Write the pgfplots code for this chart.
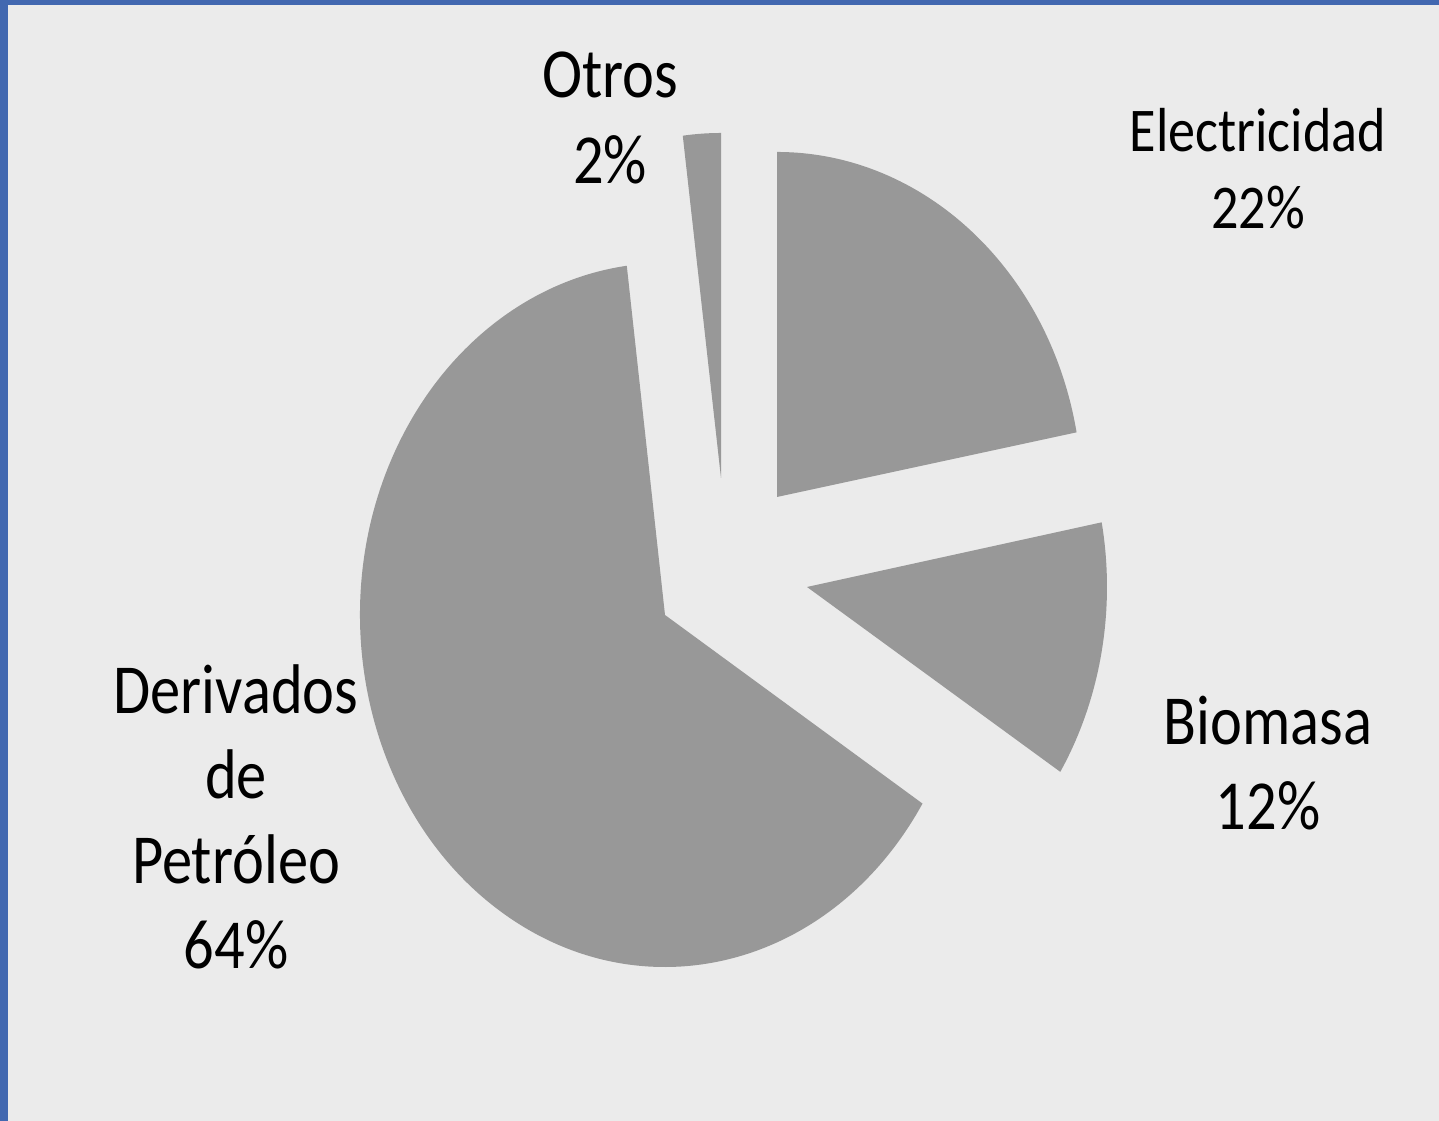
\documentclass[border=0pt]{standalone}
\usepackage{pgfplots}
\pgfplotsset{compat=1.18}
\usepackage{fontspec}
\setmainfont{Carlito}
\definecolor{bg}{RGB}{235,235,235}
\definecolor{slice}{RGB}{152,152,152}
\definecolor{frame}{RGB}{66,104,176}
\begin{document}
\begin{tikzpicture}
% slice values (%)
\def\vE{22}\def\vB{12}\def\vD{64}\def\vO{2}
\pgfmathsetmacro\aA{90}
\pgfmathsetmacro\aB{\aA-3.6*\vE}
\pgfmathsetmacro\aC{\aB-3.6*\vB}
\pgfmathsetmacro\aD{\aC-3.6*\vD}
\pgfmathsetmacro\aE{\aD-3.6*\vO}
\begin{axis}[
  width=14.39cm, height=11.21cm, scale only axis,
  xmin=0, xmax=1439, ymin=0, ymax=1121,
  hide axis, clip=false,
]
\fill[bg] (axis cs:0,0) rectangle (axis cs:1439,1121);
\fill[frame] (axis cs:0,0) rectangle (axis cs:8,1121);
\fill[frame] (axis cs:0,1116) rectangle (axis cs:1439,1121);
% wedges
\fill[slice] (axis cs:777,624) -- ++(\aA:3.05cm and 3.45cm)
  arc[start angle=\aA, end angle=\aB, x radius=3.05cm, y radius=3.45cm] -- cycle;
\fill[slice] (axis cs:807,534) -- ++(\aB:3.0cm and 3.45cm)
  arc[start angle=\aB, end angle=\aC, x radius=3.0cm, y radius=3.45cm] -- cycle;
\fill[slice] (axis cs:665,506) -- ++(\aC:3.05cm and 3.52cm)
  arc[start angle=\aC, end angle=\aD, x radius=3.05cm, y radius=3.52cm] -- cycle;
\fill[slice] (axis cs:721,643) -- ++(\aD:3.05cm and 3.45cm)
  arc[start angle=\aD, end angle=\aE, x radius=3.05cm, y radius=3.45cm] -- cycle;
% labels
\tikzset{lbl/.style={align=center, xscale=0.86, font=\fontsize{20}{24.2}\selectfont, inner sep=0pt, text=black},
         lbls/.style={align=center, xscale=0.87, font=\fontsize{17.7}{21.9}\selectfont, inner sep=0pt, text=black}}
\node[lbl] at (axis cs:610,1003) {Otros\\2\%};
\node[lbls] at (axis cs:1258,952) {Electricidad\\22\%};
\node[lbl] at (axis cs:1268,358) {Biomasa\\12\%};
\node[lbl] at (axis cs:236,304) {Derivados\\de\\Petróleo\\64\%};
\end{axis}
\end{tikzpicture}
\end{document}
